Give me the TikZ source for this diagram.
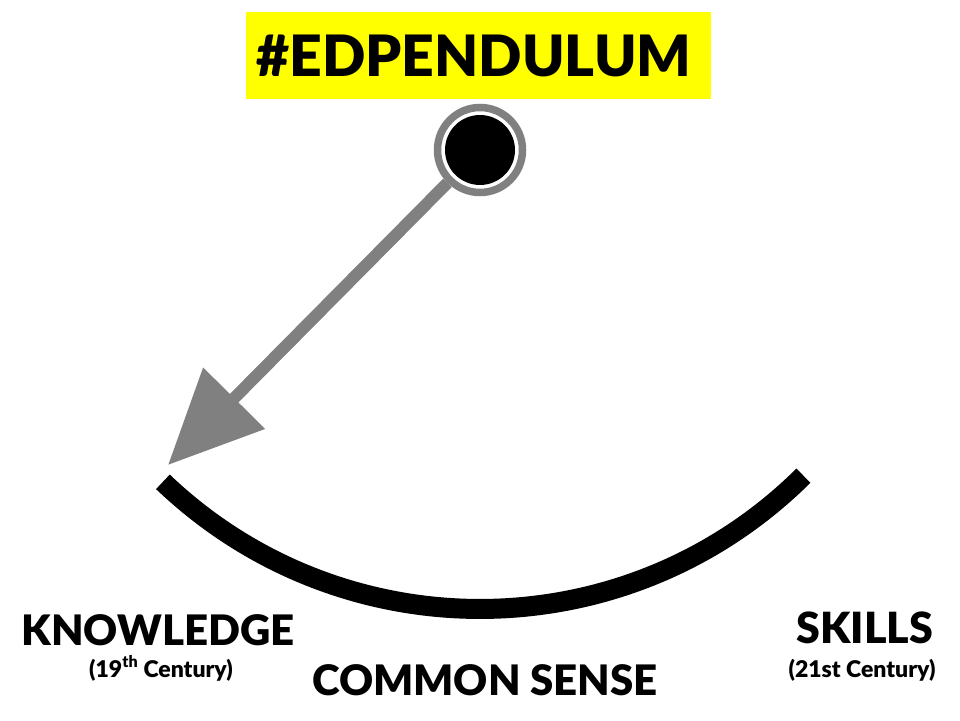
\documentclass[tikz,border=0pt]{standalone}
\usepackage{fontspec}
\setmainfont{Lato Black}
\usetikzlibrary{arrows.meta}
\definecolor{pgray}{HTML}{808080}
\definecolor{pyellow}{HTML}{FFFF00}
\begin{document}
\begin{tikzpicture}[x=1pt,y=1pt,
  bigtxt/.style={anchor=base, inner sep=0pt, font=\fontsize{42}{46}\selectfont},
  smalltxt/.style={anchor=base, inner sep=0pt, font=\fontsize{23}{26}\selectfont},
  shaft/.style={draw=pgray, line width=12pt, -{Triangle[length=94pt,width=84pt]}}]
\fill[white] (0,0) rectangle (960,720);
\useasboundingbox (0,0) rectangle (960,720);
% title
\fill[pyellow] (246,621) rectangle (711,708);
\node[anchor=base, inner sep=0pt, font=\fontsize{57}{64}\selectfont] (title) at (474,643) {\#EDPENDULUM};
% pendulum
\node[circle, draw=pgray, line width=7.5pt, fill=white, minimum size=85pt, inner sep=0pt] (pivot) at (480,570) {};
\node[circle, fill=black, minimum size=70pt, inner sep=0pt] (bob) at (pivot) {};
\coordinate (tip) at (168,255);
\draw[shaft] (pivot) -- (tip);
% arc
\draw[line width=20pt] (pivot.center) ++(226.3:459) arc[start angle=226.3, end angle=314.8, radius=459];
% labels
\node[bigtxt] (know) at (158,75) {KNOWLEDGE};
\node[smalltxt] (c19) at (161,43) {(19\textsuperscript{th} Century)};
\node[bigtxt] (common) at (485,25) {COMMON SENSE};
\node[bigtxt, font=\fontsize{43}{46}\selectfont] (skills) at (865,77) {SKILLS};
\node[smalltxt] (c21) at (862,43) {(21st Century)};
\end{tikzpicture}
\end{document}
